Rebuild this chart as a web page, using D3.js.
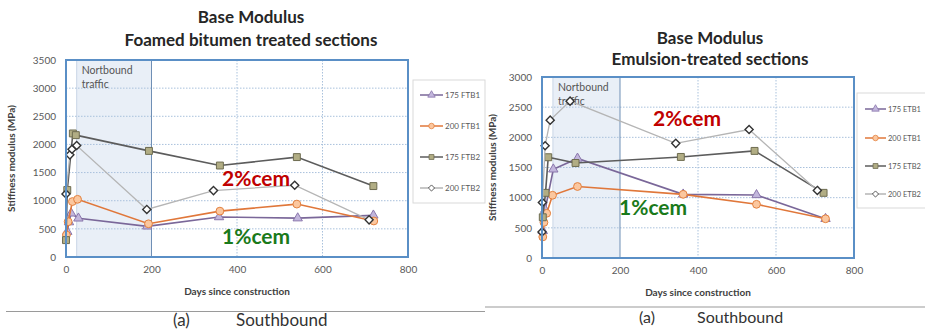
<!DOCTYPE html>
<html>
<head>
<meta charset="utf-8">
<script src="https://cdn.jsdelivr.net/npm/d3@7"></script>
<style>
  body { margin: 0; background: #fff; }
  svg text { font-family: Lato, "Open Sans", sans-serif; }
</style>
</head>
<body>
<div id="chart"></div>
<script>
// ---- data ----
// left panel: foamed bitumen sections
const ftb1_175_days = [3, 7, 12, 29, 190, 358, 542, 719];
const ftb1_175_vals = [450, 620, 776, 687, 545, 710, 690, 740];
const ftb1_200_days = [1, 5, 15, 27, 193, 360, 540, 720];
const ftb1_200_vals = [391, 627, 985, 1025, 590, 815, 940, 640];
const ftb2_175_days = [0, 3, 16, 23, 194, 360, 540, 719];
const ftb2_175_vals = [300, 1190, 2195, 2165, 1885, 1625, 1775, 1260];
const ftb2_200_days = [0, 9, 14, 25, 189, 345, 535, 709];
const ftb2_200_vals = [1120, 1815, 1915, 1980, 845, 1180, 1275, 660];

// right panel: emulsion sections
const etb1_175_days = [2, 8, 29, 91, 362, 550, 727];
const etb1_175_vals = [450, 800, 1470, 1650, 1055, 1045, 650];
const etb1_200_days = [2, 5, 12, 27, 91, 362, 550, 727];
const etb1_200_vals = [350, 590, 741, 1040, 1185, 1055, 890, 650];
const etb2_175_days = [2, 9, 16, 86, 356, 545, 722];
const etb2_175_vals = [675, 1080, 1670, 1575, 1675, 1775, 1080];
const etb2_200_days = [0, 1, 8, 21, 72, 343, 531, 706];
const etb2_200_vals = [430, 920, 1860, 2285, 2600, 1900, 2130, 1120];

const xTicks = [0, 200, 400, 600, 800];
const yTicksLeft = [0, 500, 1000, 1500, 2000, 2500, 3000, 3500];
const yTicksRight = [0, 500, 1000, 1500, 2000, 2500, 3000];

const styles = {
  t: {line: "#7a6799", fill: "#c2b6dc", stroke: "#8a76ac", shape: d3.symbolTriangle, size: 38},
  c: {line: "#e0773a", fill: "#fbc79f", stroke: "#e3813f", shape: d3.symbolCircle, size: 48},
  s: {line: "#5c5c5c", fill: "#b1ad84", stroke: "#6e6c50", shape: d3.symbolSquare, size: 48},
  d: {line: "#b5b5b5", fill: "#ffffff", stroke: "#333333", shape: d3.symbolDiamond2, size: 42}
};

const svg = d3.select("#chart").append("svg")
  .attr("width", 925)
  .attr("height", 330);

function drawPanel(p) {
  const x = d3.scaleLinear().domain([0, 800]).range([p.left, p.right]);
  const y = d3.scaleLinear().domain([0, p.ymax]).range([p.bottom, p.top]);
  const g = svg.append("g");

  // shaded traffic band
  g.append("rect")
    .attr("x", x(p.band[0]))
    .attr("y", p.top)
    .attr("width", x(p.band[1]) - x(p.band[0]))
    .attr("height", p.bottom - p.top)
    .attr("fill", "#e9eff7");
  g.append("line")
    .attr("x1", x(p.band[0])).attr("x2", x(p.band[0]))
    .attr("y1", p.top).attr("y2", p.bottom)
    .attr("stroke", "#c9d6e6");

  // grid
  g.selectAll(".hg").data(p.yTicks.slice(1, -1)).enter().append("line")
    .attr("x1", p.left).attr("x2", p.right)
    .attr("y1", d => y(d)).attr("y2", d => y(d))
    .attr("stroke", "#a9c1dc").attr("stroke-dasharray", "1.5,1.5");
  g.selectAll(".vg").data([400, 600]).enter().append("line")
    .attr("x1", d => x(d)).attr("x2", d => x(d))
    .attr("y1", p.top).attr("y2", p.bottom)
    .attr("stroke", "#a9c1dc").attr("stroke-dasharray", "1.5,1.5");
  g.append("line")
    .attr("x1", x(p.band[1])).attr("x2", x(p.band[1]))
    .attr("y1", p.top).attr("y2", p.bottom)
    .attr("stroke", "#6f8fb5").attr("stroke-width", 1);

  g.append("text")
    .attr("x", x(p.band[0]) + 5).attr("y", p.top + 14)
    .attr("font-size", 10.5).attr("fill", "#555")
    .text("Nortbound");
  g.append("text")
    .attr("x", x(p.band[0]) + 5).attr("y", p.top + 28)
    .attr("font-size", 10.5).attr("fill", "#555")
    .text("traffic");

  // axes
  const xAxis = d3.axisBottom(x).tickValues(xTicks).tickSize(0).tickPadding(9)
    .tickFormat(d3.format("d"));
  const yAxis = d3.axisLeft(y).tickValues(p.yTicks).tickSize(0).tickPadding(10)
    .tickFormat(d3.format("d"));
  const gx = g.append("g").attr("transform", `translate(0,${p.bottom})`).call(xAxis);
  const gy = g.append("g").attr("transform", `translate(${p.left},0)`).call(yAxis);
  [gx, gy].forEach(a => {
    a.select(".domain").remove();
    a.selectAll("text").attr("font-size", 10).attr("fill", "#595959")
      .attr("font-family", "Lato, sans-serif");
  });

  // series
  p.series.forEach(s => {
    const st = styles[s.kind];
    const pts = s.days.map((d, i) => [d, s.vals[i]]);
    g.append("path")
      .datum(pts)
      .attr("fill", "none")
      .attr("stroke", st.line)
      .attr("stroke-width", s.kind === "d" ? 1.3 : 1.6)
      .attr("d", d3.line().x(d => x(d[0])).y(d => y(d[1])));
    g.selectAll(null).data(pts).enter().append("path")
      .attr("transform", d => `translate(${x(d[0])},${y(d[1])})`)
      .attr("d", d3.symbol().type(st.shape).size(st.size))
      .attr("fill", st.fill)
      .attr("stroke", st.stroke)
      .attr("stroke-width", s.kind === "d" ? 1.4 : 1);
  });

  // plot border
  g.append("rect")
    .attr("x", p.left).attr("y", p.top)
    .attr("width", p.right - p.left).attr("height", p.bottom - p.top)
    .attr("fill", "none").attr("stroke", "#5a8fc6").attr("stroke-width", 2);

  // titles
  g.append("text").attr("x", p.titleX).attr("y", p.titleY[0])
    .attr("text-anchor", "middle").attr("font-size", 17).attr("font-weight", "bold")
    .attr("fill", "#262626").text("Base Modulus");
  g.append("text").attr("x", p.titleX).attr("y", p.titleY[1])
    .attr("text-anchor", "middle").attr("font-size", 17).attr("font-weight", "bold")
    .attr("fill", "#262626").text(p.subtitle);

  g.append("text").attr("x", (p.left + p.right) / 2).attr("y", p.bottom + 38)
    .attr("text-anchor", "middle").attr("font-size", 10).attr("font-weight", "bold")
    .attr("fill", "#404040").text("Days since construction");
  g.append("text")
    .attr("transform", `translate(${p.yLabelX},${(p.top + p.bottom) / 2}) rotate(-90)`)
    .attr("text-anchor", "middle").attr("font-size", 10).attr("font-weight", "bold")
    .attr("fill", "#404040").text("Stiffness modulus (MPa)");

  // cement annotations
  g.append("text").attr("x", p.cem2[0]).attr("y", p.cem2[1])
    .attr("font-size", 21).attr("font-weight", "bold").attr("fill", "#c00000")
    .attr("font-family", "'Open Sans', sans-serif").text("2%cem");
  g.append("text").attr("x", p.cem1[0]).attr("y", p.cem1[1])
    .attr("font-size", 21).attr("font-weight", "bold").attr("fill", "#1a7a1a")
    .attr("font-family", "'Open Sans', sans-serif").text("1%cem");

  // legend
  const L = p.legend;
  g.append("rect").attr("x", L.x).attr("y", L.y).attr("width", L.w).attr("height", L.h)
    .attr("fill", "#fff").attr("stroke", "#d9d9d9");
  p.series.forEach((s, i) => {
    const st = styles[s.kind];
    const ly = L.rows[i];
    g.append("line").attr("x1", L.lx).attr("x2", L.lx + L.lw).attr("y1", ly).attr("y2", ly)
      .attr("stroke", st.line).attr("stroke-width", 1.5);
    g.append("path").attr("transform", `translate(${L.lx + L.lw / 2},${ly})`)
      .attr("d", d3.symbol().type(st.shape).size(24))
      .attr("fill", st.fill).attr("stroke", st.stroke).attr("stroke-width", 0.8);
    g.append("text").attr("x", L.lx + L.lw + 2).attr("y", ly + 3)
      .attr("font-size", L.fs).attr("fill", "#595959").text(s.name);
  });

  // caption
  svg.append("line").attr("x1", p.cap.x1).attr("x2", p.cap.x2)
    .attr("y1", p.cap.y).attr("y2", p.cap.y)
    .attr("stroke", "#9a9a9a").attr("stroke-width", 1.2);
  svg.append("text").attr("x", p.cap.ax).attr("y", p.cap.ty)
    .attr("font-size", p.cap.fs).attr("fill", "#333")
    .attr("font-family", "'Liberation Sans', Arial, sans-serif").text("(a)");
  svg.append("text").attr("x", p.cap.sx).attr("y", p.cap.ty)
    .attr("font-size", p.cap.fs).attr("fill", "#333")
    .attr("font-family", "'Liberation Sans', Arial, sans-serif").text("Southbound");
}

drawPanel({
  left: 66, right: 408, top: 60, bottom: 257, ymax: 3500, yTicks: yTicksLeft,
  band: [25, 200],
  titleX: 251, titleY: [23, 46], subtitle: "Foamed bitumen treated sections",
  yLabelX: 15,
  cem2: [222, 186], cem1: [222, 244],
  legend: {x: 413, y: 80, w: 72, h: 123, lx: 420, lw: 23, fs: 8, rows: [95, 126, 157, 188]},
  cap: {x1: 6, x2: 485, y: 311.5, ax: 173, sx: 236, ty: 325.5, fs: 17},
  series: [
    {name: "175 FTB1", kind: "t", days: ftb1_175_days, vals: ftb1_175_vals},
    {name: "200 FTB1", kind: "c", days: ftb1_200_days, vals: ftb1_200_vals},
    {name: "175 FTB2", kind: "s", days: ftb2_175_days, vals: ftb2_175_vals},
    {name: "200 FTB2", kind: "d", days: ftb2_200_days, vals: ftb2_200_vals}
  ]
});

drawPanel({
  left: 542, right: 854, top: 77, bottom: 258, ymax: 3000, yTicks: yTicksRight,
  band: [28, 200],
  titleX: 710, titleY: [44, 65], subtitle: "Emulsion-treated sections",
  yLabelX: 496,
  cem2: [653, 126], cem1: [619, 215],
  legend: {x: 857, y: 93, w: 75, h: 115, lx: 865, lw: 21, fs: 7.5, rows: [109, 138, 166, 194]},
  cap: {x1: 485, x2: 925, y: 307, ax: 639, sx: 697, ty: 323, fs: 16},
  series: [
    {name: "175 ETB1", kind: "t", days: etb1_175_days, vals: etb1_175_vals},
    {name: "200 ETB1", kind: "c", days: etb1_200_days, vals: etb1_200_vals},
    {name: "175 ETB2", kind: "s", days: etb2_175_days, vals: etb2_175_vals},
    {name: "200 ETB2", kind: "d", days: etb2_200_days, vals: etb2_200_vals}
  ]
});
</script>
</body>
</html>
